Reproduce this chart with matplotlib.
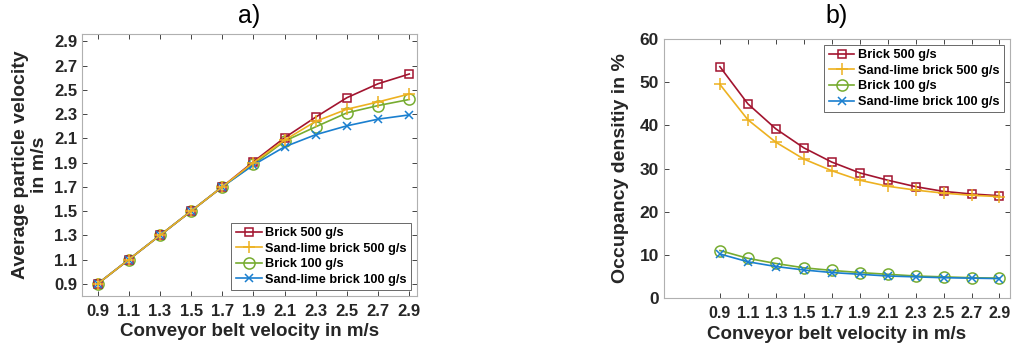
import matplotlib
matplotlib.use('Agg')
import matplotlib.pyplot as plt

plt.rcParams['font.family'] = ['Liberation Sans', 'DejaVu Sans']
plt.rcParams['font.weight'] = 'bold'

belt_v = [0.9, 1.1, 1.3, 1.5, 1.7, 1.9, 2.1, 2.3, 2.5, 2.7, 2.9]
ticks = ['0.9', '1.1', '1.3', '1.5', '1.7', '1.9', '2.1', '2.3', '2.5', '2.7', '2.9']

# a) average particle velocity
vel_brick500 = [0.9, 1.1, 1.3, 1.5, 1.7, 1.907, 2.105, 2.275, 2.435, 2.55, 2.63]
vel_sand500 = [0.9, 1.1, 1.3, 1.5, 1.7, 1.90, 2.085, 2.24, 2.34, 2.40, 2.465]
vel_brick100 = [0.9, 1.1, 1.3, 1.5, 1.7, 1.885, 2.077, 2.195, 2.31, 2.37, 2.42]
vel_sand100 = [0.9, 1.1, 1.3, 1.5, 1.7, 1.88, 2.03, 2.13, 2.203, 2.258, 2.293]

# b) occupancy density
occ_brick500 = [53.6, 45.0, 39.2, 34.8, 31.5, 29.0, 27.3, 25.8, 24.7, 24.1, 23.7]
occ_sand500 = [49.5, 41.3, 36.1, 32.2, 29.5, 27.3, 25.9, 25.0, 24.3, 23.8, 23.5]
occ_brick100 = [11.0, 9.2, 8.0, 7.0, 6.4, 5.9, 5.5, 5.1, 4.9, 4.7, 4.6]
occ_sand100 = [10.2, 8.4, 7.3, 6.5, 5.9, 5.5, 5.1, 4.9, 4.7, 4.6, 4.5]

labels = ['Brick 500 g/s', 'Sand-lime brick 500 g/s', 'Brick 100 g/s', 'Sand-lime brick 100 g/s']
colors = ['#A2142F', '#EDB120', '#77AC30', '#1a7fcf']
markers = ['s', '+', 'o', 'x']
msizes = [6, 9, 8, 6]
zords = [3, 5, 2, 4]

fig = plt.figure(figsize=(10.14, 3.49), dpi=100)
ax1 = fig.add_axes([0.0809, 0.1519, 0.3304, 0.7507])
ax2 = fig.add_axes([0.6548, 0.1461, 0.3412, 0.742])

def draw(ax, series, tsize):
    for i, ys in enumerate(series):
        ax.plot(belt_v, ys, color=colors[i], marker=markers[i], markersize=msizes[i],
                markerfacecolor='none', markeredgewidth=1.1, linewidth=1.2,
                label=labels[i], zorder=zords[i])
    ax.set_xticks(belt_v)
    ax.set_xticklabels(ticks)
    ax.tick_params(direction='in', top=True, right=True, labelsize=tsize,
                   colors='#262626', length=3.5, width=0.6)
    ax.tick_params(axis='x', pad=6)
    for sp in ax.spines.values():
        sp.set_color('#b0b0b0')
        sp.set_linewidth(0.8)
    ax.set_xlabel('Conveyor belt velocity in m/s', fontsize=13.5, fontweight='bold',
                  color='#262626', labelpad=3)
    leg = ax.legend(fontsize=9.2, frameon=True, fancybox=False,
                    borderpad=0.35, labelspacing=0.28, handlelength=2.0, handletextpad=0.3,
                    borderaxespad=0.45)
    leg.get_frame().set_edgecolor('#262626')
    leg.get_frame().set_linewidth(0.6)
    return leg

leg1 = draw(ax1, [vel_brick500, vel_sand500, vel_brick100, vel_sand100], 12)
leg1.set_loc('lower right')
ax1.set_xlim(0.8, 2.95)
ax1.set_ylim(0.8, 2.96)
ax1.set_yticks(belt_v)
ax1.set_yticklabels(ticks)
ax1.set_ylabel('Average particle velocity\nin m/s', fontsize=14, fontweight='bold',
               color='#262626', linespacing=1.2, labelpad=4)
fig.text(0.2461, 0.955, 'a)', fontsize=18, ha='center', va='center', fontweight='normal')

leg2 = draw(ax2, [occ_brick500, occ_sand500, occ_brick100, occ_sand100], 11.5)
leg2.set_loc('upper right')
ax2.set_xlim(0.5, 2.975)
ax2.set_ylim(0, 60)
ax2.set_yticks([0, 10, 20, 30, 40, 50, 60])
ax2.tick_params(axis='y', labelsize=12.5)
ax2.set_ylabel('Occupancy densitiy in %', fontsize=14, fontweight='bold', color='#262626',
               labelpad=8)
fig.text(0.8254, 0.955, 'b)', fontsize=18, ha='center', va='center', fontweight='normal')

fig.savefig('out.png', dpi=100)
